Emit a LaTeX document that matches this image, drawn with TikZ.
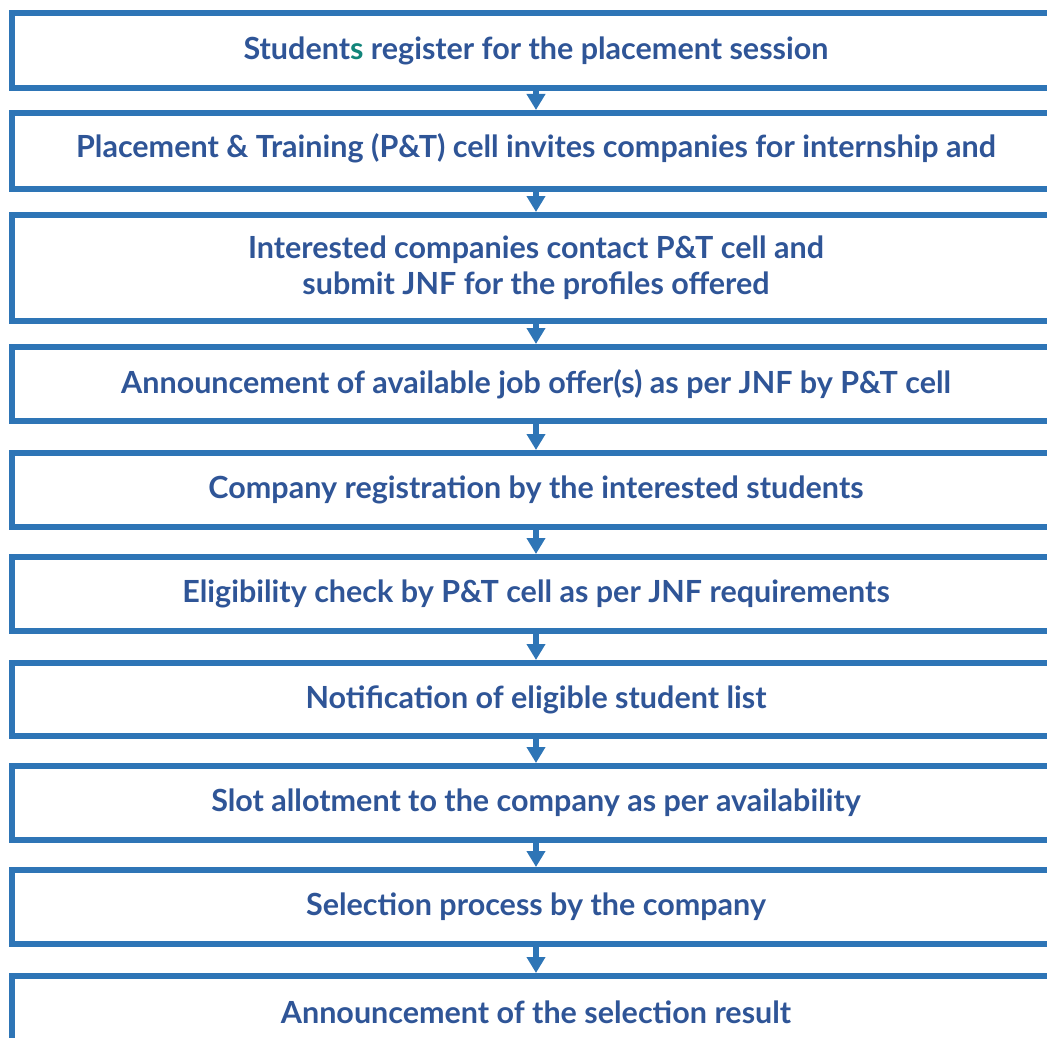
\documentclass[tikz,border=0pt]{standalone}
\usepackage{fontspec}
\setmainfont{Lato}
\usetikzlibrary{arrows.meta}
\definecolor{boxblue}{HTML}{2E75B6}
\definecolor{txtblue}{HTML}{2F5597}
\definecolor{teal}{HTML}{12857A}
\tikzset{
  txt/.style={text=txtblue, align=center, font=\fontsize{30.5}{36}\selectfont\bfseries},
  stepbox/.style={txt, draw=boxblue, line width=6pt, minimum width=1048pt, inner sep=0pt},
  arr/.style={draw=boxblue, line width=6pt, -{Triangle[width=18pt,length=16pt]}}
}
\begin{document}
\begin{tikzpicture}[x=1pt,y=-1pt]
\useasboundingbox (0,0) rectangle (1047,1038);
\clip (0,0) rectangle (1047,1038);
\node[stepbox, minimum height=75pt] (b1) at (536,50.5) {Student{\color{teal}s} register for the placement session};
\node[stepbox, minimum height=76pt] (b2) at (536,151) {};
\node[txt] (t2) at (536,148) {Placement \& Training (P\&T) cell invites companies for internship and};
\node[stepbox, minimum height=106pt] (b3) at (536,268) {Interested companies contact P\&T cell and\\submit JNF for the profiles offered};
\node[stepbox, minimum height=74pt] (b4) at (536,384) {Announcement of available job offer(s) as per JNF by P\&T cell};
\node[stepbox, minimum height=74pt] (b5) at (536,490) {Company registration by the interested students};
\node[stepbox, minimum height=74pt] (b6) at (536,594) {Eligibility check by P\&T cell as per JNF requirements};
\node[stepbox, minimum height=73pt] (b7) at (536,699.5) {Notification of eligible student list};
\node[stepbox, minimum height=74pt] (b8) at (536,803) {Slot allotment to the company as per availability};
\node[stepbox, minimum height=74pt] (b9) at (536,907) {Selection process by the company};
\node[stepbox, minimum height=74pt, anchor=north] (b10) at (536,973) {};
\node[txt] (t10) at (536,1012) {Announcement of the selection result};
\draw[arr] (b1.south) -- (b2.north);
\draw[arr] (b2.south) -- (b3.north);
\draw[arr] (b3.south) -- (b4.north);
\draw[arr] (b4.south) -- (b5.north);
\draw[arr] (b5.south) -- (b6.north);
\draw[arr] (b6.south) -- (b7.north);
\draw[arr] (b7.south) -- (b8.north);
\draw[arr] (b8.south) -- (b9.north);
\draw[arr] (b9.south) -- (b10.north);
\end{tikzpicture}
\end{document}
